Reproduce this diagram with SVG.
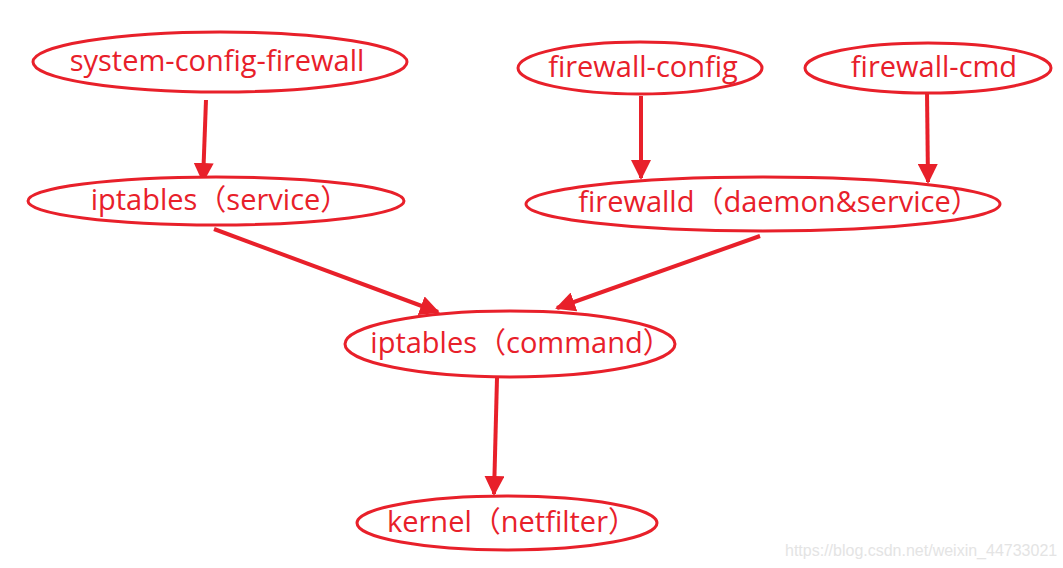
<svg xmlns="http://www.w3.org/2000/svg" width="1063" height="568" viewBox="0 0 1063 568">
<style>
.n ellipse{fill:#fff;stroke:#E8202A;stroke-width:3}
.n text{fill:#E8202A;font-family:"Open Sans","Noto Sans CJK SC",sans-serif;font-size:29px;text-anchor:middle;dominant-baseline:central}
.c line{stroke:#E8202A;stroke-width:4;marker-end:url(#ah)}
.wm{fill:#e4e4e4;font-family:"Liberation Sans",sans-serif;font-size:16px}
</style>
<defs>
<marker id="ah" viewBox="0 0 10 10" refX="9" refY="5" markerWidth="5" markerHeight="5" orient="auto" markerUnits="strokeWidth">
<path d="M0,0 L10,5 L0,10 z" fill="#E8202A"/>
</marker>
</defs>
<rect width="1063" height="568" fill="#fff"/>
<g class="c">
<line x1="206" y1="100" x2="203" y2="181"/>
<line x1="641" y1="96" x2="641" y2="178"/>
<line x1="927" y1="92" x2="928" y2="182"/>
<line x1="214" y1="229" x2="438" y2="312"/>
<line x1="760" y1="236" x2="557" y2="308"/>
<line x1="497" y1="378" x2="494" y2="494"/>
</g>
<g id="n1" class="n"><ellipse cx="220" cy="62" rx="187" ry="30"/><text x="217" y="59">system-config-firewall</text></g>
<g id="n2" class="n"><ellipse cx="640" cy="68" rx="122" ry="26"/><text x="643" y="65">firewall-config</text></g>
<g id="n3" class="n"><ellipse cx="928" cy="68" rx="123" ry="25"/><text x="934" y="65">firewall-cmd</text></g>
<g id="n4" class="n"><ellipse cx="216" cy="201" rx="188" ry="24"/><text x="220" y="198">iptables（service）</text></g>
<g id="n5" class="n"><ellipse cx="763" cy="204" rx="237" ry="27"/><text x="779" y="200">firewalld（daemon&amp;service）</text></g>
<g id="n6" class="n"><ellipse cx="510" cy="344" rx="165" ry="33"/><text x="521" y="341">iptables（command）</text></g>
<g id="n7" class="n"><ellipse cx="507" cy="523" rx="150" ry="27"/><text x="512" y="520">kernel（netfilter）</text></g>
<text class="wm" x="785" y="556">https://blog.csdn.net/weixin_44733021</text>
</svg>
